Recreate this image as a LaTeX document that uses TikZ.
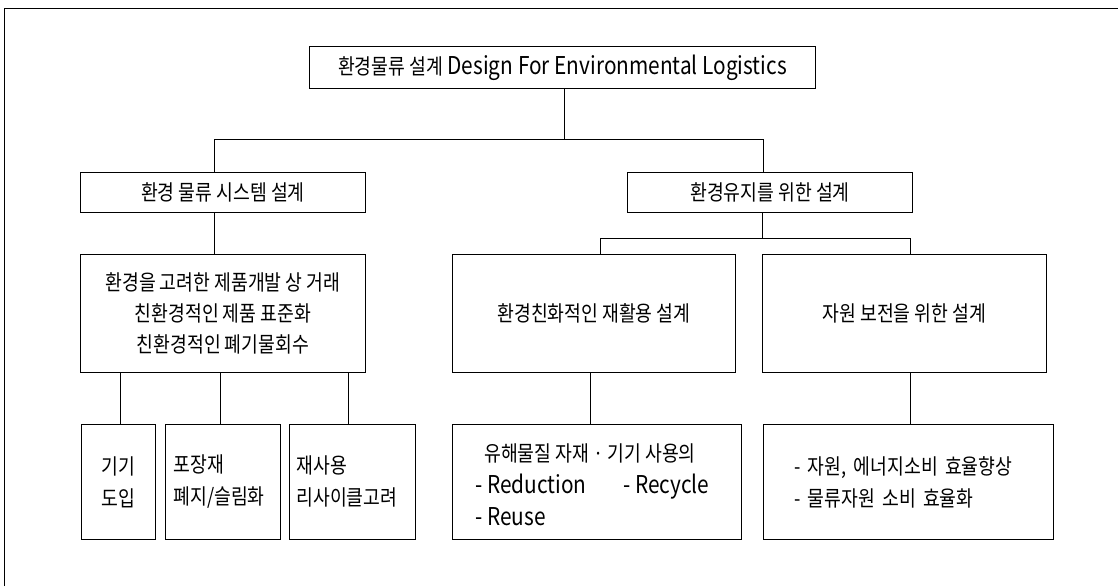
\documentclass[tikz,border=0pt]{standalone}
\usepackage{fontspec}
\setmainfont{Noto Sans CJK KR}[FakeStretch=0.85]
\newcommand\myLat[2]{{\fontsize{#1}{32}\selectfont #2}}
\begin{document}
\begin{tikzpicture}[x=1pt,y=-1pt,
  box/.style={draw,line width=0.9pt,inner sep=0pt,anchor=north west,font=\fontsize{21.5}{32}\selectfont},
  lbl/.style={inner sep=0pt,font=\fontsize{21.5}{32}\selectfont},
  conn/.style={line width=0.8pt}]
\useasboundingbox (0,0) rectangle (1118,586);
\draw[conn] (4,586) -- (4,8) -- (1118,8);
% boxes
\node[box,minimum width=506pt,minimum height=42pt] (top) at (309,46) {환경물류 설계\myLat{24.5}{ Design For Environmental Logistics}};
\node[box,minimum width=285pt,minimum height=40pt] (sys) at (80,172) {환경 물류 시스템 설계};
\node[box,minimum width=285pt,minimum height=40pt] (env) at (627,172) {환경유지를 위한 설계};
\node[box,minimum width=285pt,minimum height=118pt,align=center,font=\fontsize{21.5}{31}\selectfont] (prod) at (80,254) {환경을 고려한 제품개발 상 거래\\친환경적인 제품 표준화\\친환경적인 폐기물회수};
\node[box,minimum width=283pt,minimum height=118pt] (recy) at (452,254) {환경친화적인 재활용 설계};
\node[box,minimum width=284pt,minimum height=118pt] (res) at (762,254) {자원 보전을 위한 설계};
\node[box,minimum width=74pt,minimum height=115pt,align=center] (b1) at (81,424) {기기\\도입};
\node[box,minimum width=115pt,minimum height=115pt,align=left,text width=115pt] (b2) at (165,424) {\hspace*{8pt}포장재\\\hspace*{8pt}폐지/슬림화};
\node[box,minimum width=126pt,minimum height=115pt,align=left,text width=126pt] (b3) at (289,424) {\hspace*{7pt}재사용\\\hspace*{7pt}리사이클고려};
\node[box,minimum width=289pt,minimum height=115pt] (haz) at (452,424) {};
\node[box,minimum width=290pt,minimum height=115pt,align=left,text width=290pt] (eff) at (763,424) {\hspace*{31pt}- 자원, 에너지소비 효율향상\\\hspace*{31pt}- 물류자원 소비 효율화};
% text in hazardous box
\node[lbl,anchor=base west] (h1) at (484,461) {유해물질 자재 · 기기 사용의};
\node[lbl,anchor=base west] (h2) at (475,493) {\myLat{24.5}{- Reduction}};
\node[lbl,anchor=base west] (h3) at (623,493) {\myLat{24.5}{- Recycle}};
\node[lbl,anchor=base west] (h4) at (475,525) {\myLat{24.5}{- Reuse}};
% connectors
\coordinate (j0) at (564,139);
\coordinate (jl) at (214,139);
\coordinate (jr) at (763,139);
\draw[conn] (top.south -| j0) -- (j0);
\draw[conn] (jl |- sys.north) -- (jl) -- (jr) -- (jr |- env.north);
\coordinate (k0) at (762,238);
\coordinate (kl) at (600,238);
\coordinate (kr) at (910,238);
\draw[conn] (env.south -| k0) -- (k0);
\draw[conn] (kl |- recy.north) -- (kl) -- (kr) -- (kr |- res.north);
\draw[conn] (sys.south -| jl) -- (jl |- prod.north);
\coordinate (p1) at (120,372);
\coordinate (p2) at (220,372);
\coordinate (p3) at (348,372);
\draw[conn] (p1) -- (p1 |- b1.north);
\draw[conn] (p2) -- (p2 |- b2.north);
\draw[conn] (p3) -- (p3 |- b3.north);
\coordinate (q1) at (590,372);
\coordinate (q2) at (910,372);
\draw[conn] (q1) -- (q1 |- haz.north);
\draw[conn] (q2) -- (q2 |- eff.north);
\end{tikzpicture}
\end{document}
